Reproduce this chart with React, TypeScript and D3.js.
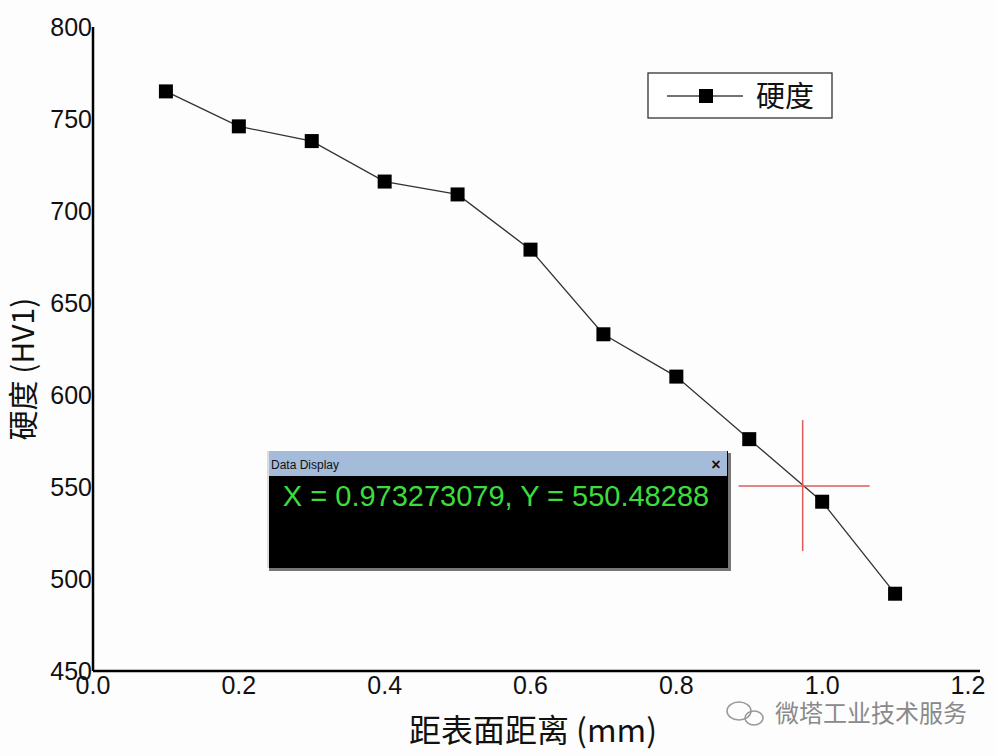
import React, { useEffect, useRef } from 'react';
import * as d3 from 'd3';

// distance from surface (mm) and hardness (HV1)
const distances = [0.1, 0.2, 0.3, 0.4, 0.5, 0.6, 0.7, 0.8, 0.9, 1.0, 1.1];
const hardness = [765, 746, 738, 716, 709, 679, 633, 610, 576, 542, 492];
const xTicks = [0.0, 0.2, 0.4, 0.6, 0.8, 1.0, 1.2];
const yTicks = [450, 500, 550, 600, 650, 700, 750, 800];
const cursorX = 0.973273079;
const cursorY = 550.48288;
const seriesName = '硬度';
const xTitle = '距表面距离 (mm)';
const yTitle = '硬度 (HV1)';
const watermark = '微塔工业技术服务';

export default function App() {
  const svgRef = useRef<SVGSVGElement | null>(null);
  const width = 996;
  const height = 756;
  const font = '"Liberation Sans", Arial, sans-serif';
  const cjk = '"Noto Sans CJK SC", sans-serif';

  useEffect(() => {
    if (!svgRef.current) return;
    const svg = d3.select(svgRef.current);
    svg.selectAll('*').remove();

    const x = d3.scaleLinear().domain([0, 1.2]).range([93, 968]);
    const y = d3.scaleLinear().domain([450, 800]).range([671, 27]);

    svg.append('rect').attr('width', width).attr('height', height).attr('fill', '#fdfdfd');

    // axes
    svg.append('line')
      .attr('x1', x(0)).attr('x2', x(0)).attr('y1', y(800)).attr('y2', y(450))
      .attr('stroke', '#000').attr('stroke-width', 2.5);
    svg.append('line')
      .attr('x1', x(0)).attr('x2', 980).attr('y1', y(450)).attr('y2', y(450))
      .attr('stroke', '#000').attr('stroke-width', 2.5);

    svg.append('g').selectAll('text').data(yTicks).enter().append('text')
      .attr('x', x(0) - 1).attr('y', d => y(d) + 9)
      .attr('text-anchor', 'end').attr('font-family', font).attr('font-size', 25)
      .attr('fill', '#111').text(d => d);

    svg.append('g').selectAll('text').data(xTicks).enter().append('text')
      .attr('x', d => x(d)).attr('y', y(450) + 23)
      .attr('text-anchor', 'middle').attr('font-family', font).attr('font-size', 25)
      .attr('fill', '#111').text(d => d.toFixed(1));

    // axis titles
    svg.append('text')
      .attr('transform', `translate(34, 369) rotate(-90)`)
      .attr('text-anchor', 'middle').attr('font-family', cjk).attr('font-size', 30)
      .attr('fill', '#111').text(yTitle);
    svg.append('text')
      .attr('x', 533).attr('y', 742)
      .attr('text-anchor', 'middle').attr('font-family', cjk).attr('font-size', 32)
      .attr('fill', '#111').text(xTitle);

    // series
    const line = d3.line<number>().x((_, i) => x(distances[i])).y(d => y(d));
    svg.append('path').datum(hardness).attr('d', line)
      .attr('fill', 'none').attr('stroke', '#333').attr('stroke-width', 1.3);
    svg.append('g').selectAll('rect').data(hardness).enter().append('rect')
      .attr('x', (_, i) => x(distances[i]) - 7).attr('y', d => y(d) - 7)
      .attr('width', 14).attr('height', 14).attr('fill', '#000');

    // legend
    const lg = svg.append('g').attr('transform', 'translate(648,73)');
    lg.append('rect').attr('width', 184).attr('height', 45)
      .attr('fill', '#fff').attr('stroke', '#333').attr('stroke-width', 1.3);
    lg.append('line').attr('x1', 19).attr('x2', 95).attr('y1', 23).attr('y2', 23)
      .attr('stroke', '#444').attr('stroke-width', 1.3);
    lg.append('rect').attr('x', 51).attr('y', 16).attr('width', 14).attr('height', 14).attr('fill', '#000');
    lg.append('text').attr('x', 108).attr('y', 34)
      .attr('font-family', cjk).attr('font-size', 29).attr('fill', '#111').text(seriesName);

    // crosshair
    const cx = x(cursorX), cy = y(cursorY);
    svg.append('line').attr('x1', cx).attr('x2', cx).attr('y1', cy - 66).attr('y2', cy + 65)
      .attr('stroke', '#e05a5a').attr('stroke-width', 1.5);
    svg.append('line').attr('x1', cx - 64).attr('x2', cx + 67).attr('y1', cy).attr('y2', cy)
      .attr('stroke', '#e05a5a').attr('stroke-width', 1.5);

    // data display window
    const dd = svg.append('g').attr('transform', 'translate(267,451)');
    dd.append('rect').attr('x', 2).attr('y', 2).attr('width', 462).attr('height', 118).attr('fill', '#777');
    dd.append('rect').attr('width', 461).attr('height', 117).attr('fill', '#000');
    dd.append('rect').attr('x', 1).attr('y', 0).attr('width', 459).attr('height', 25).attr('fill', '#a4bbd9');
    dd.append('rect').attr('x', 0).attr('y', 0).attr('width', 2).attr('height', 117).attr('fill', '#ddd');
    dd.append('text').attr('x', 4).attr('y', 18).attr('font-family', font).attr('font-size', 12)
      .attr('fill', '#111').text('Data Display');
    dd.append('text').attr('x', 449).attr('y', 19).attr('text-anchor', 'middle')
      .attr('font-family', font).attr('font-size', 16).attr('font-weight', 'bold')
      .attr('fill', '#111').text('×');
    dd.append('text').attr('x', 229).attr('y', 55).attr('text-anchor', 'middle')
      .attr('font-family', font).attr('font-size', 29).attr('fill', '#3ddc3d')
      .text(`X = ${cursorX}, Y = ${cursorY}`);

    // watermark
    const wm = svg.append('g').attr('fill', 'none').attr('stroke', '#999').attr('stroke-width', 1.5);
    wm.append('ellipse').attr('cx', 739).attr('cy', 711).attr('rx', 12).attr('ry', 9);
    wm.append('ellipse').attr('cx', 754).attr('cy', 718).attr('rx', 9).attr('ry', 7);
    svg.append('text').attr('x', 775).attr('y', 722)
      .attr('font-family', cjk).attr('font-size', 24).attr('fill', '#8a8a8a').text(watermark);
  }, []);

  return (
    <div style={{ position: 'absolute', left: 0, top: 0 }}>
      <svg ref={svgRef} width={width} height={height} style={{ display: 'block' }} />
    </div>
  );
}
